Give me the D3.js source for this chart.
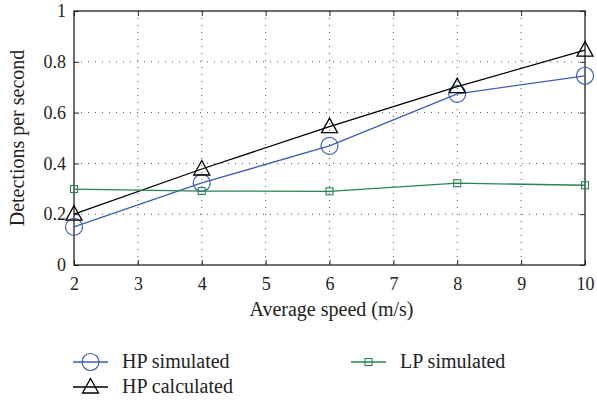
<!DOCTYPE html>
<html>
<head>
<meta charset="utf-8">
<script src="https://cdn.jsdelivr.net/npm/d3@7"></script>
<style>
body { margin: 0; background: #fff; }
</style>
</head>
<body>
<svg id="chart" width="597" height="404"></svg>
<script>
const speeds = [2, 4, 6, 8, 10];
const hpSimulated = [0.15, 0.323, 0.469, 0.674, 0.745];
const hpCalculated = [0.2, 0.378, 0.545, 0.702, 0.846];
const lpSimulated = [0.299, 0.291, 0.29, 0.322, 0.314];
const xTicks = [2, 3, 4, 5, 6, 7, 8, 9, 10];
const yTicks = [0, 0.2, 0.4, 0.6, 0.8, 1];

const series = [
    { name: "HP simulated", values: hpSimulated, color: "#3b5db3", marker: "circle" },
    { name: "HP calculated", values: hpCalculated, color: "#000000", marker: "triangle" },
    { name: "LP simulated", values: lpSimulated, color: "#2a8355", marker: "square" }
];

const FONT = "'Liberation Serif', 'DejaVu Serif', 'Times New Roman', serif";

const svg = d3.select("#chart").attr("font-family", FONT);
const margin = { left: 74, top: 11, right: 12, bottom: 139 };
const width = 597 - margin.left - margin.right;
const height = 404 - margin.top - margin.bottom;

const x = d3.scaleLinear().domain([2, 10]).range([0, width]);
const y = d3.scaleLinear().domain([0, 1]).range([height, 0]);

const g = svg.append("g").attr("transform", `translate(${margin.left},${margin.top})`);

// dotted grid
g.append("g").selectAll("line").data(xTicks.slice(1, -1)).join("line")
    .attr("x1", d => x(d)).attr("x2", d => x(d))
    .attr("y1", 0).attr("y2", height)
    .attr("stroke", "#555").attr("stroke-width", 1)
    .attr("stroke-dasharray", "1 6");
g.append("g").selectAll("line").data(yTicks.slice(1, -1)).join("line")
    .attr("y1", d => y(d)).attr("y2", d => y(d))
    .attr("x1", 0).attr("x2", width)
    .attr("stroke", "#555").attr("stroke-width", 1)
    .attr("stroke-dasharray", "1 6");

// axes, ticks pointing inward like matlab
const styleAxis = sel => {
    sel.attr("font-family", FONT);
    sel.select(".domain").remove();
    sel.selectAll(".tick line").attr("stroke", "#222");
    sel.selectAll("text").attr("fill", "#222").style("font-family", FONT).style("font-size", "18px");
};
g.append("g").attr("transform", `translate(0,${height})`)
    .call(d3.axisBottom(x).tickValues(xTicks).tickSize(-5).tickPadding(12).tickFormat(d3.format("d")))
    .call(styleAxis);
g.append("g")
    .call(d3.axisLeft(y).tickValues(yTicks).tickSize(-5).tickPadding(8).tickFormat(d => d === 0 || d === 1 ? d : d3.format(".1f")(d)))
    .call(styleAxis);
g.append("g")
    .call(d3.axisTop(x).tickValues(xTicks).tickSize(-5).tickFormat(""))
    .call(styleAxis);
g.append("g").attr("transform", `translate(${width},0)`)
    .call(d3.axisRight(y).tickValues(yTicks).tickSize(-5).tickFormat(""))
    .call(styleAxis);

g.append("rect").attr("width", width).attr("height", height)
    .attr("fill", "none").attr("stroke", "#222").attr("stroke-width", 1.3);

const line = d3.line().x(d => x(d[0])).y(d => y(d[1]));

const drawMarker = (sel, marker, color) => {
    if (marker === "circle") {
        sel.append("circle").attr("r", 8.5).attr("fill", "none").attr("stroke", color).attr("stroke-width", 1.2);
    } else if (marker === "triangle") {
        sel.append("path").attr("d", "M0,-8.5L8,6L-8,6Z").attr("fill", "none").attr("stroke", color).attr("stroke-width", 1.3);
    } else {
        sel.append("rect").attr("x", -3.5).attr("y", -3.5).attr("width", 7).attr("height", 7)
            .attr("fill", "none").attr("stroke", color).attr("stroke-width", 1.1);
    }
};

series.forEach(s => {
    const pts = speeds.map((sp, i) => [sp, s.values[i]]);
    g.append("path").attr("d", line(pts)).attr("fill", "none")
        .attr("stroke", s.color).attr("stroke-width", 1.3);
    g.append("g").selectAll("g").data(pts).join("g")
        .attr("transform", d => `translate(${x(d[0])},${y(d[1])})`)
        .each(function () { drawMarker(d3.select(this), s.marker, s.color); });
});

// axis titles
svg.append("text").attr("x", margin.left + width / 2 + 2).attr("y", 316)
    .attr("text-anchor", "middle").attr("fill", "#222").style("font-family", FONT).style("font-size", "20px")
    .text("Average speed (m/s)");
svg.append("text").attr("transform", `translate(24,${margin.top + height / 2}) rotate(-90)`)
    .attr("text-anchor", "middle").attr("fill", "#222").style("font-family", FONT).style("font-size", "20px")
    .text("Detections per second");

// legend
const legendPos = [[73, 362], [73, 387], [351, 362]];
series.forEach((s, i) => {
    const [lx, ly] = legendPos[i];
    const item = svg.append("g").attr("transform", `translate(${lx},${ly})`);
    item.append("line").attr("x1", 0).attr("x2", 35).attr("stroke", s.color).attr("stroke-width", 1.3);
    const m = item.append("g").attr("transform", "translate(17.5,0)");
    drawMarker(m, s.marker, s.color);
    item.append("text").attr("x", 49).attr("y", 6).attr("fill", "#222")
        .style("font-family", FONT).style("font-size", "20px").text(s.name);
});
</script>
</body>
</html>
